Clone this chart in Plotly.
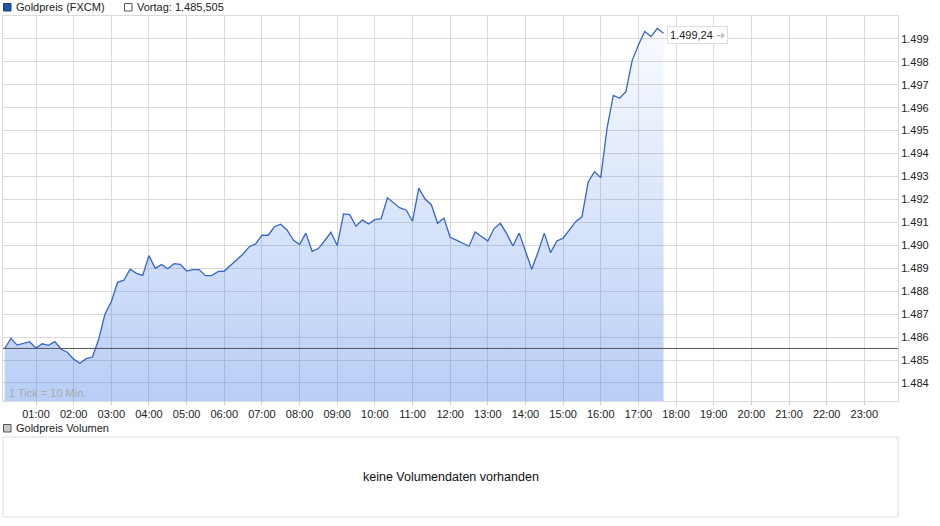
import pandas as pd
import plotly.graph_objects as go

W, H = 940, 526

# 10-minute ticks from 00:10 to 17:40
TIMES = pd.date_range("2024-01-01 00:10", periods=106, freq="10min")
PRICE = [
    1485.48, 1485.95, 1485.65, 1485.74, 1485.80, 1485.52, 1485.71, 1485.64, 1485.80, 1485.47,
    1485.34, 1485.04, 1484.86, 1485.06, 1485.13, 1485.92, 1487.01, 1487.54, 1488.39, 1488.48,
    1488.96, 1488.78, 1488.69, 1489.55, 1489.00, 1489.16, 1488.98, 1489.20, 1489.17, 1488.88,
    1488.94, 1488.94, 1488.68, 1488.68, 1488.85, 1488.88, 1489.12, 1489.36, 1489.62, 1489.94,
    1490.06, 1490.44, 1490.44, 1490.81, 1490.92, 1490.67, 1490.23, 1490.03, 1490.53, 1489.74,
    1489.86, 1490.20, 1490.57, 1489.99, 1491.37, 1491.34, 1490.83, 1491.11, 1490.93, 1491.12,
    1491.16, 1492.07, 1491.83, 1491.63, 1491.54, 1491.05, 1492.49, 1492.02, 1491.77, 1490.96,
    1491.19, 1490.35, 1490.23, 1490.09, 1489.96, 1490.58, 1490.38, 1490.19, 1490.73, 1490.96,
    1490.51, 1489.97, 1490.53, 1489.77, 1488.96, 1489.70, 1490.53, 1489.68, 1490.19, 1490.31,
    1490.67, 1491.03, 1491.24, 1492.76, 1493.21, 1492.95, 1495.11, 1496.53, 1496.41, 1496.70,
    1498.05, 1498.73, 1499.32, 1499.10, 1499.45, 1499.24,
]
VORTAG = 1485.505
Y_TICKS = list(range(1484, 1500))
Y_RANGE = [1483.215, 1499.995]
X_RANGE = ["2024-01-01 00:07:25", "2024-01-01 23:53:40"]

LINE = "#3366cc"
GRID = "#dadada"
TEXT = "#222222"
FONT = "Liberation Sans, Arial, sans-serif"


def px(x):
    return x / W


def py(y):
    return 1 - y / H


def de(v, nd):
    s = f"{v:,.{nd}f}"
    return s.replace(",", "_").replace(".", ",").replace("_", ".")


fig = go.Figure()
fig.add_trace(
    go.Scatter(
        x=TIMES,
        y=PRICE,
        mode="lines",
        line={"color": LINE, "width": 1.3},
        fill="tozeroy",
        fillgradient={
            "type": "vertical",
            "start": Y_RANGE[0],
            "stop": max(PRICE),
            "colorscale": [[0, "rgba(60,120,230,0.36)"], [1, "rgba(60,120,230,0.03)"]],
        },
        hoverinfo="skip",
        showlegend=False,
    )
)
fig.add_hline(y=VORTAG, line={"color": "#555555", "width": 1}, layer="above")

fig.update_layout(
    width=W,
    height=H,
    margin={"l": 0, "r": 0, "t": 0, "b": 0},
    paper_bgcolor="white",
    plot_bgcolor="white",
    separators=",.",
    font={"family": FONT, "size": 11, "color": TEXT},
    showlegend=False,
    xaxis={
        "domain": [px(3), px(898)],
        "range": X_RANGE,
        "type": "date",
        "tick0": "2024-01-01 00:00",
        "dtick": 3600000,
        "tickformat": "%H:%M",
        "showgrid": True,
        "gridcolor": GRID,
        "showline": True,
        "linecolor": GRID,
        "mirror": True,
        "ticks": "outside",
        "ticklen": 3,
        "tickcolor": "#cccccc",
        "zeroline": False,
        "fixedrange": True,
    },
    yaxis={
        "domain": [py(401), py(16)],
        "range": Y_RANGE,
        "side": "right",
        "tickvals": Y_TICKS,
        "tickformat": ",d",
        "showgrid": True,
        "gridcolor": GRID,
        "showline": True,
        "linecolor": GRID,
        "mirror": True,
        "ticks": "",
        "zeroline": False,
        "fixedrange": True,
    },
)

# legend boxes and the empty volume panel
shapes = [
    dict(type="rect", xref="paper", yref="paper", x0=px(3.5), x1=px(11), y0=py(11), y1=py(3.5),
         fillcolor="#2255aa", line={"color": "#1a3d80", "width": 1}),
    dict(type="rect", xref="paper", yref="paper", x0=px(124.5), x1=px(132), y0=py(11), y1=py(3.5),
         fillcolor="white", line={"color": "#555555", "width": 1}),
    dict(type="rect", xref="paper", yref="paper", x0=px(3.5), x1=px(11), y0=py(432), y1=py(424.5),
         fillcolor="#c8c8c8", line={"color": "#555555", "width": 1}),
    dict(type="rect", xref="paper", yref="paper", x0=px(3), x1=px(898), y0=py(517), y1=py(437),
         fillcolor="white", line={"color": "#dddddd", "width": 1}),
]
fig.update_layout(shapes=list(fig.layout.shapes) + shapes)

fig.add_annotation(text="Goldpreis (FXCM)", xref="paper", yref="paper", x=px(14), y=py(7.5),
                   xanchor="left", yanchor="middle", showarrow=False)
fig.add_annotation(text=f"Vortag: {de(VORTAG, 3)}", xref="paper", yref="paper", x=px(135), y=py(7.5),
                   xanchor="left", yanchor="middle", showarrow=False)
fig.add_annotation(text="Goldpreis Volumen", xref="paper", yref="paper", x=px(14), y=py(428),
                   xanchor="left", yanchor="middle", showarrow=False)
fig.add_annotation(text="keine Volumendaten vorhanden", xref="paper", yref="paper", x=px(451), y=py(477),
                   xanchor="center", yanchor="middle", showarrow=False, font={"size": 12.5, "color": "#111111"})
fig.add_annotation(text="1 Tick = 10 Min.", xref="paper", yref="paper", x=px(7), y=py(393),
                   xanchor="left", yanchor="middle", showarrow=False, font={"size": 11, "color": "#aaaaaa"})
fig.add_annotation(
    text=f"{de(PRICE[-1], 2)} <span style='color:#bbbbbb'>➜</span>",
    x=TIMES[-1], y=PRICE[-1], xanchor="left", yanchor="middle", xshift=3, yshift=-2,
    showarrow=False, bgcolor="white", bordercolor="#dddddd", borderwidth=1, borderpad=2,
    font={"size": 11, "color": TEXT},
)

fig.write_html(
    "out.html",
    config={"displayModeBar": False},
    post_script="document.body.style.margin='0';document.body.style.overflow='hidden';",
)
